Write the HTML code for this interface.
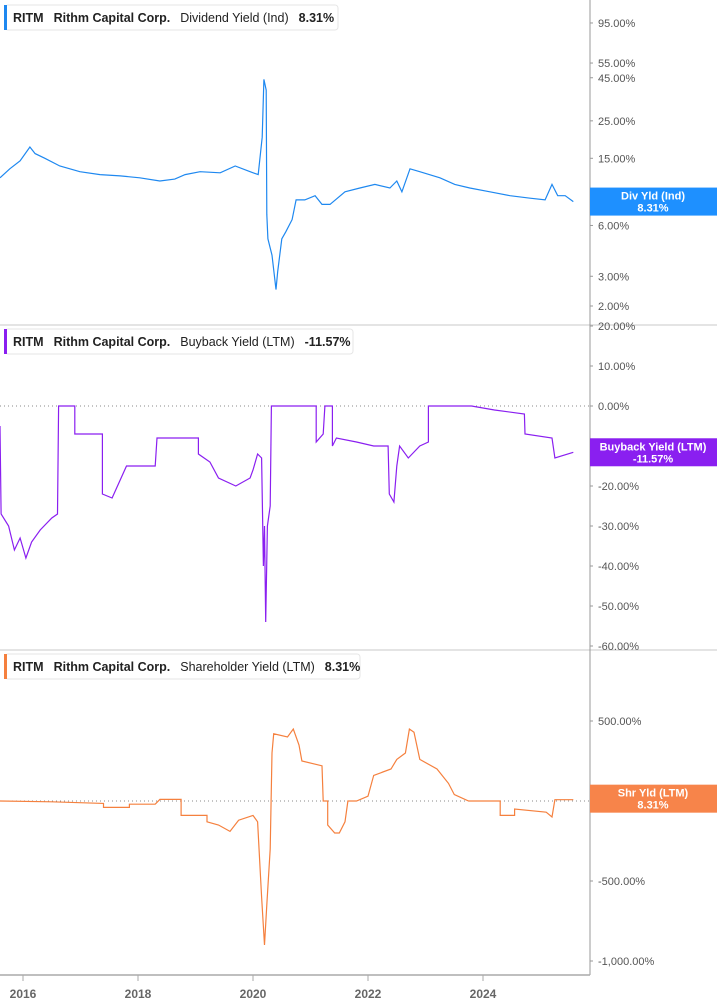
<!DOCTYPE html>
<html><head><meta charset="utf-8"><style>
html,body{margin:0;padding:0;background:#fff;width:717px;height:1005px;overflow:hidden;font-family:"Liberation Sans",sans-serif}
svg text{font-family:"Liberation Sans",sans-serif}
</style></head><body>
<svg id="c" width="717" height="1005" xmlns="http://www.w3.org/2000/svg"></svg>
<script>
const yearTicks=[2016,2018,2020,2022,2024];
const divYears=[2015.6,2015.77,2015.95,2016.12,2016.21,2016.38,2016.64,2016.99,2017.34,2017.69,2018.03,2018.38,2018.64,2018.82,2019.08,2019.43,2019.69,2019.95,2020.09,2020.16,2020.19,2020.23,2020.24,2020.26,2020.33,2020.40,2020.43,2020.50,2020.57,2020.68,2020.75,2020.90,2021.08,2021.20,2021.34,2021.60,2021.86,2022.12,2022.38,2022.50,2022.59,2022.73,2022.90,2023.25,2023.51,2023.77,2024.12,2024.47,2024.82,2025.08,2025.20,2025.30,2025.43,2025.57];
const divValues=[11.5,13,14.5,17.5,16,15,13.5,12.5,12,11.8,11.5,11,11.3,12,12.5,12.3,13.5,12.5,12,20,44,38,7,5,4,2.5,3.2,5,5.5,6.5,8.5,8.5,9,8,8,9.5,10,10.5,10,11,9.5,13,12.5,11.5,10.5,10,9.5,9,8.7,8.5,10.5,9,9,8.31];
const divTicks=[95,55,45,25,15,8,6,3,2];
const bbYears=[2015.6,2015.62,2015.75,2015.85,2015.95,2016.05,2016.15,2016.3,2016.5,2016.6,2016.62,2016.9,2016.9,2017.38,2017.38,2017.55,2017.8,2018.3,2018.33,2019.05,2019.05,2019.25,2019.4,2019.7,2019.95,2020.0,2020.08,2020.15,2020.18,2020.2,2020.22,2020.25,2020.3,2020.32,2021.1,2021.1,2021.22,2021.25,2021.38,2021.38,2021.45,2021.8,2022.1,2022.35,2022.37,2022.45,2022.5,2022.55,2022.7,2022.9,2023.05,2023.05,2023.8,2024.2,2024.72,2024.73,2025.2,2025.25,2025.57];
const bbValues=[-5,-27,-30,-36,-33,-38,-34,-31,-28,-27,0,0,-7,-7,-22,-23,-15,-15,-8,-8,-12,-14,-18,-20,-18,-16,-12,-13,-40,-30,-54,-30,-25,0,0,-9,-7,0,0,-10,-8,-9,-10,-10,-22,-24,-15,-10,-13,-10,-9,0,0,-1,-2,-7,-8,-13,-11.57];
const bbTicks=[20,10,0,-20,-30,-40,-50,-60];
const shYears=[2015.6,2016.5,2017.4,2017.4,2017.85,2017.85,2018.3,2018.38,2018.75,2018.75,2019.2,2019.2,2019.4,2019.6,2019.75,2020.0,2020.08,2020.15,2020.2,2020.24,2020.3,2020.33,2020.36,2020.6,2020.7,2020.8,2020.85,2021.2,2021.22,2021.3,2021.3,2021.42,2021.5,2021.6,2021.65,2021.8,2022.0,2022.1,2022.4,2022.5,2022.65,2022.72,2022.8,2022.9,2023.2,2023.4,2023.5,2023.75,2024.3,2024.3,2024.55,2024.55,2025.1,2025.2,2025.25,2025.57];
const shValues=[0,-5,-15,-40,-40,-20,-20,10,10,-90,-90,-130,-150,-190,-120,-90,-130,-600,-900,-650,-300,300,420,400,450,350,250,220,0,0,-150,-200,-200,-130,0,0,30,160,200,260,300,450,430,260,200,110,40,0,0,-90,-90,-50,-70,-100,8,8.31];
const shTicks=[500,0,-500,-1000];

const svg=document.getElementById('c');const NS='http://www.w3.org/2000/svg';
function el(t,a,p){const e=document.createElementNS(NS,t);for(const k in a)e.setAttribute(k,a[k]);(p||svg).appendChild(e);return e;}
const AX=590;
const xS=y=>23+(y-2016)*57.5;
const yDiv=v=>306-(Math.log10(v)-Math.log10(2))*168.8;
const yBB=v=>406-v*4;
const ySH=v=>801-v*0.16;
function fmt(v){const s=Math.abs(v).toFixed(2).replace(/\B(?=(\d{3})+(?!\d))/g,',');return (v<0?'-':'')+s+'%';}

// panel separators & axis
let l=el('line',{x1:0,y1:325,x2:717,y2:325,stroke:'#c8c8c8'});

l=el('line',{x1:0,y1:650,x2:717,y2:650,stroke:'#c8c8c8'});

l=el('line',{x1:AX,y1:0,x2:AX,y2:975,stroke:'#999'});

l=el('line',{x1:0,y1:975,x2:AX,y2:975,stroke:'#aaa','stroke-width':1.5});

yearTicks.forEach(y=>{const x=xS(y);
 const t=el('line',{x1:x,y1:975,x2:x,y2:981,stroke:'#aaa'});
 
 const tx=el('text',{x:x,y:998,'text-anchor':'middle','font-size':12,'font-weight':'bold',fill:'#666'});tx.textContent=y;
 });

function ticks(arr,fy){arr.forEach(v=>{const y=fy(v);
 const m=el('line',{x1:AX,y1:y,x2:AX+3,y2:y,stroke:'#999'});
 
 const t=el('text',{x:AX+8,y:y+4,'font-size':11,fill:'#555'});t.textContent=fmt(v);
 });}
ticks(divTicks,yDiv);ticks(bbTicks,yBB);ticks(shTicks,ySH);

function zero(y,n){const z=el('line',{x1:0,y1:y,x2:AX,y2:y,stroke:'#888','stroke-dasharray':'1,3'});
 }
zero(yBB(0),'buyback-zero-line');zero(ySH(0),'shareholder-zero-line');

function line(xs,vs,fy,col,n){const d=xs.map((x,i)=>(i?'L':'M')+xS(x).toFixed(1)+','+fy(vs[i]).toFixed(1)).join('');
 const p=el('path',{d:d,fill:'none',stroke:col,'stroke-width':1.2});
 }
line(divYears,divValues,yDiv,'#1e88f0','dividend-yield-line');
line(bbYears,bbValues,yBB,'#8a1ff0','buyback-yield-line');
line(shYears,shValues,ySH,'#f5803e','shareholder-yield-line');

function header(y,w,col,name,val,n){const g=el('g',{});
 el('rect',{x:5,y:y,width:w,height:25,rx:3,fill:'#fff',stroke:'#e6e6e6'},g);
 el('rect',{x:4,y:y,width:3,height:25,fill:col},g);
 const t=el('text',{x:13,y:y+17,'font-size':12.5,fill:'#222'},g);
 t.innerHTML='<tspan font-weight="bold">RITM</tspan><tspan dx="10" font-weight="bold">Rithm Capital Corp.</tspan><tspan dx="10">'+name+'</tspan><tspan dx="10" font-weight="bold">'+val+'</tspan>';}
header(5,333,'#1e88f0','Dividend Yield (Ind)','8.31%','dividend-legend');
header(329,348,'#8a1ff0','Buyback Yield (LTM)','-11.57%','buyback-legend');
header(654,355,'#f5803e','Shareholder Yield (LTM)','8.31%','shareholder-legend');

function badge(yc,col,a,b,n){const g=el('g',{});
 el('rect',{x:AX,y:yc-14,width:127,height:28,fill:col},g);
 let t=el('text',{x:653,y:yc-2,'text-anchor':'middle','font-size':11,'font-weight':'bold',fill:'#fff'},g);t.textContent=a;
 t=el('text',{x:653,y:yc+10,'text-anchor':'middle','font-size':11,'font-weight':'bold',fill:'#fff'},g);t.textContent=b;}
badge(yDiv(8.31),'#1e90ff','Div Yld (Ind)','8.31%','dividend-value-badge');
badge(yBB(-11.57),'#8a1ff0','Buyback Yield (LTM)','-11.57%','buyback-value-badge');
badge(ySH(8.31)-1,'#f7844a','Shr Yld (LTM)','8.31%','shareholder-value-badge');
</script>
</body></html>
